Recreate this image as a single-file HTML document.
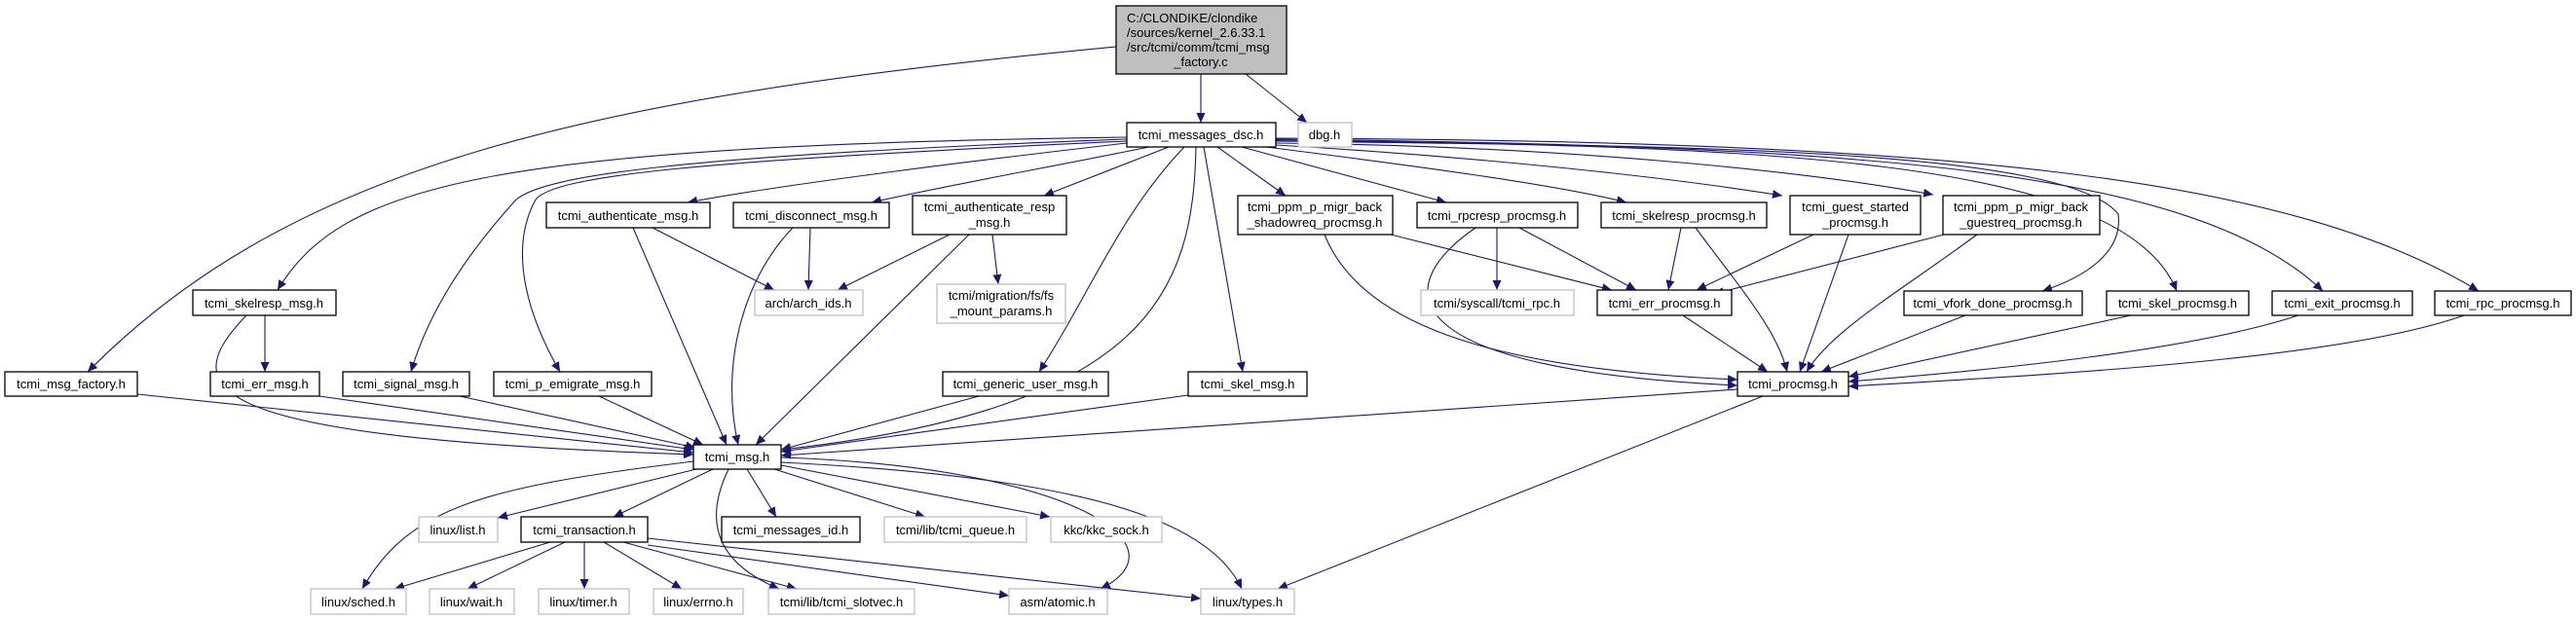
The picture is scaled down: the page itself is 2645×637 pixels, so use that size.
<!DOCTYPE html>
<html><head><meta charset="utf-8"><style>
html,body{margin:0;padding:0;background:#fff;}
svg{display:block;}
text{font-family:"Liberation Sans",sans-serif;font-size:13px;fill:#000;text-anchor:middle;}
.b{fill:#fff;stroke:#000;stroke-width:1.3;}
.g{fill:#fff;stroke:#bfbfbf;stroke-width:1.3;}
.e{fill:none;stroke:#191970;stroke-width:1.1;marker-end:url(#a);}
</style></head><body>
<svg width="2645" height="637" viewBox="0 0 2645 637" xmlns="http://www.w3.org/2000/svg">
<defs><marker id="a" markerUnits="userSpaceOnUse" markerWidth="11" markerHeight="9" refX="10" refY="4.5" orient="auto"><path d="M0,0 L10,4.5 L0,9 z" fill="#191970"/></marker></defs>

<!-- edges -->
<path class="e" d="M1233 76 L1233 126"/>
<path class="e" d="M1279 76 L1342 126"/>
<path class="e" d="M1146 48 C 600 100, 300 170, 90 382"/>
<path class="e" d="M1157 147 C 1000 165, 800 190, 706 208"/>
<path class="e" d="M1180 151 C 1060 175, 950 195, 895 208"/>
<path class="e" d="M1200 151 L1072 201"/>
<path class="e" d="M1157 141 C 500 150, 350 190, 285 298"/>
<path class="e" d="M1157 143 C 700 160, 560 180, 530 205 C 480 260, 440 320, 422 382"/>
<path class="e" d="M1157 145 C 720 165, 570 180, 550 205 C 520 260, 545 330, 575 382"/>
<path class="e" d="M1216 151 C 1150 220, 1120 300, 1067 382"/>
<path class="e" d="M1236 151 L1276 382"/>
<path class="e" d="M1228 151 C 1225 300, 1180 420, 802 462"/>
<path class="e" d="M1250 151 L1320 201"/>
<path class="e" d="M1275 151 L1485 208"/>
<path class="e" d="M1300 151 C 1450 170, 1600 190, 1670 208"/>
<path class="e" d="M1310 149 C 1500 160, 1700 180, 1830 201"/>
<path class="e" d="M1310 147 C 1600 150, 1850 175, 1985 200"/>
<path class="e" d="M1310 145 C 1700 150, 2120 150, 2175 220 C 2180 260, 2140 285, 2097 299"/>
<path class="e" d="M1310 144 C 1800 150, 2180 160, 2235 299"/>
<path class="e" d="M1310 143 C 1900 150, 2250 170, 2385 299"/>
<path class="e" d="M1310 142 C 2000 145, 2350 180, 2545 299"/>

<path class="e" d="M670 234 L795 298"/>
<path class="e" d="M832 234 L830 298"/>
<path class="e" d="M975 241 L860 298"/>
<path class="e" d="M1019 241 L1025 292"/>
<path class="e" d="M995 241 L776 457"/>
<path class="e" d="M650 234 L746 457"/>
<path class="e" d="M814 234 C 760 290, 740 380, 758 457"/>

<path class="e" d="M272 324 L272 382"/>
<path class="e" d="M253 324 C 180 400, 200 450, 712 467"/>
<path class="e" d="M141 405 L712 465"/>
<path class="e" d="M328 407 L712 462"/>
<path class="e" d="M472 407 L714 460"/>
<path class="e" d="M615 407 L722 457"/>
<path class="e" d="M1005 407 L802 462"/>
<path class="e" d="M1220 406 L802 464"/>
<path class="e" d="M1784 400 L802 468"/>
<path class="e" d="M1810 407 L1312 605"/>

<path class="e" d="M1428 241 L1655 298"/>
<path class="e" d="M1360 241 C 1400 340, 1550 380, 1784 390"/>
<path class="e" d="M1537 234 L1537 298"/>
<path class="e" d="M1560 234 L1680 298"/>
<path class="e" d="M1515 234 C 1420 300, 1440 380, 1784 396"/>
<path class="e" d="M1726 234 L1713 298"/>
<path class="e" d="M1741 234 C 1790 300, 1825 340, 1835 382"/>
<path class="e" d="M1862 241 L1742 298"/>
<path class="e" d="M1898 241 L1848 382"/>
<path class="e" d="M1996 241 L1760 302"/>
<path class="e" d="M2030 241 C 1950 300, 1880 340, 1855 382"/>
<path class="e" d="M1728 324 L1815 382"/>
<path class="e" d="M2018 324 L1870 382"/>
<path class="e" d="M2188 324 L1898 387"/>
<path class="e" d="M2360 324 C 2250 360, 2050 380, 1898 392"/>
<path class="e" d="M2530 324 C 2400 370, 2100 385, 1898 397"/>

<path class="e" d="M712 474 C 500 500, 420 520, 372 605"/>
<path class="e" d="M715 482 L511 532"/>
<path class="e" d="M732 482 L630 531"/>
<path class="e" d="M748 482 C 720 540, 740 580, 800 605"/>
<path class="e" d="M767 482 L797 531"/>
<path class="e" d="M795 482 L950 531"/>
<path class="e" d="M802 478 L1078 531"/>
<path class="e" d="M802 470 C 1100 480, 1220 560, 1130 605"/>
<path class="e" d="M802 475 C 1100 490, 1240 530, 1275 605"/>

<path class="e" d="M565 557 L405 605"/>
<path class="e" d="M580 557 L480 605"/>
<path class="e" d="M600 557 L600 605"/>
<path class="e" d="M620 557 L700 605"/>
<path class="e" d="M640 557 L818 605"/>
<path class="e" d="M665 560 L1036 612"/>
<path class="e" d="M665 553 L1233 615"/>

<!-- nodes -->
<rect x="1146" y="6" width="175" height="70" fill="#bfbfbf" stroke="#000" stroke-width="1.3"/>
<text x="1157" y="23" style="text-anchor:start">C:/CLONDIKE/clondike</text>
<text x="1157" y="38" style="text-anchor:start">/sources/kernel_2.6.33.1</text>
<text x="1157" y="53" style="text-anchor:start">/src/tcmi/comm/tcmi_msg</text>
<text x="1233" y="68">_factory.c</text>

<rect class="b" x="1157" y="126" width="153" height="25"/><text x="1233" y="143">tcmi_messages_dsc.h</text>
<rect class="g" x="1333" y="126" width="55" height="25"/><text x="1360" y="143">dbg.h</text>

<rect class="b" x="561" y="208" width="168" height="26"/><text x="645" y="226">tcmi_authenticate_msg.h</text>
<rect class="b" x="753" y="208" width="160" height="26"/><text x="833" y="226">tcmi_disconnect_msg.h</text>
<rect class="b" x="937" y="201" width="158" height="40"/><text x="1016" y="217">tcmi_authenticate_resp</text><text x="1016" y="233">_msg.h</text>
<rect class="b" x="1271" y="201" width="159" height="40"/><text x="1350" y="217">tcmi_ppm_p_migr_back</text><text x="1350" y="233">_shadowreq_procmsg.h</text>
<rect class="b" x="1455" y="208" width="165" height="26"/><text x="1537" y="226">tcmi_rpcresp_procmsg.h</text>
<rect class="b" x="1644" y="208" width="170" height="26"/><text x="1729" y="226">tcmi_skelresp_procmsg.h</text>
<rect class="b" x="1838" y="201" width="134" height="40"/><text x="1905" y="217">tcmi_guest_started</text><text x="1905" y="233">_procmsg.h</text>
<rect class="b" x="1995" y="201" width="161" height="40"/><text x="2075" y="217">tcmi_ppm_p_migr_back</text><text x="2075" y="233">_guestreq_procmsg.h</text>

<rect class="b" x="198" y="298" width="147" height="26"/><text x="271" y="316">tcmi_skelresp_msg.h</text>
<rect class="g" x="775" y="298" width="111" height="26"/><text x="830" y="316">arch/arch_ids.h</text>
<rect class="g" x="962" y="292" width="132" height="40"/><text x="1028" y="308">tcmi/migration/fs/fs</text><text x="1028" y="324">_mount_params.h</text>
<rect class="g" x="1459" y="298" width="157" height="26"/><text x="1537" y="316">tcmi/syscall/tcmi_rpc.h</text>
<rect class="b" x="1640" y="298" width="138" height="26"/><text x="1709" y="316">tcmi_err_procmsg.h</text>
<rect class="b" x="1955" y="299" width="183" height="25"/><text x="2046" y="316">tcmi_vfork_done_procmsg.h</text>
<rect class="b" x="2163" y="299" width="146" height="25"/><text x="2236" y="316">tcmi_skel_procmsg.h</text>
<rect class="b" x="2333" y="299" width="144" height="25"/><text x="2405" y="316">tcmi_exit_procmsg.h</text>
<rect class="b" x="2500" y="299" width="140" height="25"/><text x="2570" y="316">tcmi_rpc_procmsg.h</text>

<rect class="b" x="5" y="382" width="136" height="25"/><text x="73" y="399">tcmi_msg_factory.h</text>
<rect class="b" x="216" y="382" width="112" height="25"/><text x="272" y="399">tcmi_err_msg.h</text>
<rect class="b" x="352" y="382" width="130" height="25"/><text x="417" y="399">tcmi_signal_msg.h</text>
<rect class="b" x="507" y="382" width="162" height="25"/><text x="588" y="399">tcmi_p_emigrate_msg.h</text>
<rect class="b" x="968" y="382" width="170" height="25"/><text x="1053" y="399">tcmi_generic_user_msg.h</text>
<rect class="b" x="1220" y="382" width="122" height="25"/><text x="1281" y="399">tcmi_skel_msg.h</text>
<rect class="b" x="1784" y="382" width="114" height="25"/><text x="1841" y="399">tcmi_procmsg.h</text>

<rect class="b" x="712" y="457" width="90" height="25"/><text x="757" y="474">tcmi_msg.h</text>

<rect class="g" x="430" y="531" width="81" height="26"/><text x="470" y="549">linux/list.h</text>
<rect class="b" x="535" y="531" width="130" height="26"/><text x="600" y="549">tcmi_transaction.h</text>
<rect class="b" x="741" y="531" width="142" height="26"/><text x="812" y="549">tcmi_messages_id.h</text>
<rect class="g" x="908" y="531" width="146" height="26"/><text x="981" y="549">tcmi/lib/tcmi_queue.h</text>
<rect class="g" x="1079" y="531" width="114" height="26"/><text x="1136" y="549">kkc/kkc_sock.h</text>

<rect class="g" x="319" y="605" width="98" height="26"/><text x="368" y="623">linux/sched.h</text>
<rect class="g" x="441" y="605" width="87" height="26"/><text x="484" y="623">linux/wait.h</text>
<rect class="g" x="553" y="605" width="93" height="26"/><text x="599" y="623">linux/timer.h</text>
<rect class="g" x="671" y="605" width="92" height="26"/><text x="717" y="623">linux/errno.h</text>
<rect class="g" x="789" y="605" width="150" height="26"/><text x="864" y="623">tcmi/lib/tcmi_slotvec.h</text>
<rect class="g" x="1036" y="605" width="101" height="26"/><text x="1086" y="623">asm/atomic.h</text>
<rect class="g" x="1233" y="605" width="96" height="26"/><text x="1281" y="623">linux/types.h</text>
</svg>
</body></html>
